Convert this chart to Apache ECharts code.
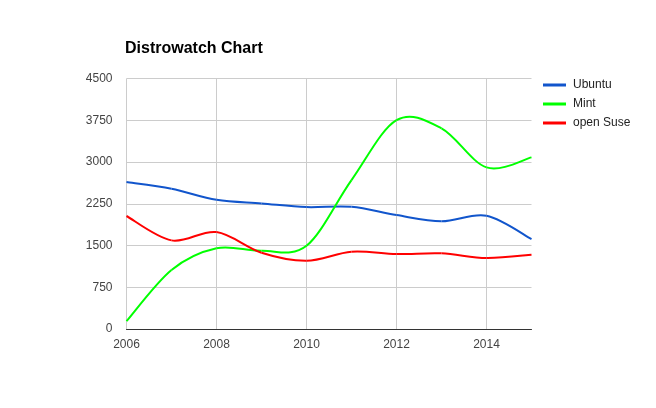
<!DOCTYPE html>
<html><head><meta charset="utf-8">
<script src="https://cdn.jsdelivr.net/npm/echarts@6/dist/echarts.min.js"></script>
<style>html,body{margin:0;padding:0;background:#fff}#c{width:656px;height:408px}</style>
</head><body><div id="c"></div>
<script>
const years = ['2006','2007','2008','2009','2010','2011','2012','2013','2014','2015'];
const ubuntu = [2640, 2520, 2320, 2255, 2190, 2195, 2047, 1935, 2034, 1615];
const mint = [140, 1060, 1450, 1405, 1495, 2675, 3752, 3603, 2903, 3083];
const openSuse = [2030, 1592, 1741, 1370, 1226, 1388, 1346, 1359, 1275, 1334];
const seriesNames = ['Ubuntu', 'Mint', 'open Suse'];
const colors = ['#1155cc', '#00ff00', '#ff0000'];

const chart = echarts.init(document.getElementById('c'), null, {renderer: 'canvas'});
const font = 'Arial, "Liberation Sans", sans-serif';

// smooth curve (Catmull-Rom) through the data points, drawn via the axis scales
const mk = (name, values, color) => ({
  name, type: 'custom', coordinateSystem: 'cartesian2d',
  data: values.map((v, i) => [i, v]),
  encode: {x: 0, y: 1},
  itemStyle: {color},
  clip: false,
  renderItem: (params, api) => {
    const i = params.dataIndex;
    const n = values.length;
    if (i >= n - 1) return null;
    const pt = j => api.coord([Math.max(0, Math.min(n - 1, j)), values[Math.max(0, Math.min(n - 1, j))]]);
    const p0 = pt(i - 1), p1 = pt(i), p2 = pt(i + 1), p3 = pt(i + 2);
    const k = 1 / 6;
    return {
      type: 'bezierCurve',
      shape: {
        x1: p1[0], y1: p1[1], x2: p2[0], y2: p2[1],
        cpx1: p1[0] + (p2[0] - p0[0]) * k, cpy1: p1[1] + (p2[1] - p0[1]) * k,
        cpx2: p2[0] - (p3[0] - p1[0]) * k, cpy2: p2[1] - (p3[1] - p1[1]) * k
      },
      style: {stroke: color, lineWidth: 2, fill: null}
    };
  }
});

chart.setOption({
  animation: false,
  title: {
    text: 'Distrowatch Chart', left: 125, top: 41, padding: 0,
    textStyle: {fontFamily: font, fontSize: 16, fontWeight: 'bold', color: '#000'}
  },
  legend: {
    orient: 'vertical', left: 538, top: 74, itemWidth: 23, itemHeight: 3,
    itemGap: 7, icon: 'rect',
    textStyle: {fontFamily: font, fontSize: 12, color: '#222', padding: [0, 0, 0, 2]},
    data: seriesNames
  },
  grid: {left: 126.5, right: 124.5, top: 78.5, bottom: 79, containLabel: false},
  xAxis: {
    type: 'category', data: years, boundaryGap: false,
    axisLine: {lineStyle: {color: '#333', width: 1}},
    axisTick: {show: false},
    axisLabel: {interval: 1, margin: 10, fontFamily: font, fontSize: 12, color: '#444'},
    splitLine: {show: true, interval: 1, lineStyle: {color: '#cccccc', width: 1}}
  },
  yAxis: {
    type: 'value', min: 0, max: 4500, interval: 750,
    axisLine: {show: false}, axisTick: {show: false},
    axisLabel: {margin: 14, fontFamily: font, fontSize: 12, color: '#444', formatter: v => String(v)},
    splitLine: {lineStyle: {color: '#cccccc', width: 1}}
  },
  series: [
    mk(seriesNames[0], ubuntu, colors[0]),
    mk(seriesNames[1], mint, colors[1]),
    mk(seriesNames[2], openSuse, colors[2])
  ]
});
</script></body></html>
